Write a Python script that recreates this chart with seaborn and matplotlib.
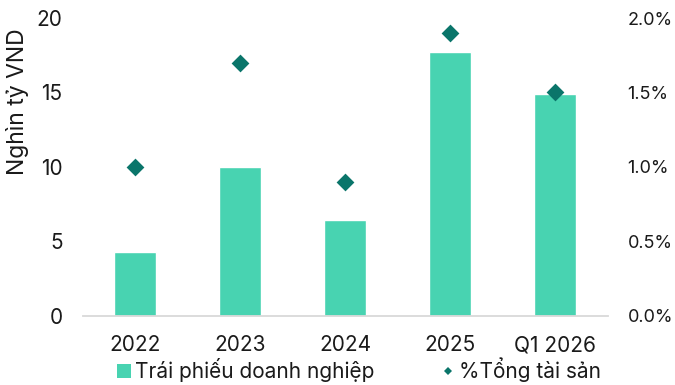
import matplotlib
matplotlib.use("Agg")
import matplotlib.pyplot as plt
from matplotlib.patches import Patch
from matplotlib.lines import Line2D
from matplotlib.ticker import FuncFormatter
import seaborn as sns
import pandas as pd

# Data
periods = ["2022", "2023", "2024", "2025", "Q1 2026"]
bond_value = [4.3, 10.0, 6.4, 17.7, 14.9]          # Nghìn tỷ VND
share_of_assets = [1.0, 1.7, 0.9, 1.9, 1.5]         # % tổng tài sản

bar_label = "Trái phiếu doanh nghiệp"
point_label = "%Tổng tài sản"
y_label = "Nghìn tỷ VND"

bar_color = "#48D3B1"
point_color = "#0A756A"
text_color = "#1A1A1A"

df = pd.DataFrame({"period": periods, "value": bond_value, "share": share_of_assets})

sns.set_theme(style="white")
plt.rcParams["font.family"] = ["Inter", "DejaVu Sans"]
plt.rcParams["text.color"] = text_color
plt.rcParams["axes.labelcolor"] = text_color
plt.rcParams["xtick.color"] = text_color
plt.rcParams["ytick.color"] = text_color

fs = 15
fig = plt.figure(figsize=(6.75, 3.85), dpi=100)
ax = fig.add_axes([0.1225, 0.18, 0.7778, 0.773])

sns.barplot(data=df, x="period", y="value", color=bar_color, width=0.4,
            saturation=1, ax=ax, zorder=2)
ax.set_xlim(-0.5, 4.5)
ax.set_ylim(0, 20)
ax.set_yticks([0, 5, 10, 15, 20])
ax.set_xlabel("")
ax.set_ylabel("")

ax2 = ax.twinx()
sns.scatterplot(data=df, x="period", y="share", marker="D", s=82,
                color=point_color, linewidth=0, ax=ax2, zorder=3, legend=False)
ax2.set_ylim(0, 2.0)
ax2.set_yticks([0, 0.5, 1.0, 1.5, 2.0])
ax2.yaxis.set_major_formatter(FuncFormatter(lambda v, _: f"{v:.1f}%"))
ax2.set_ylabel("")
ax2.set_xlim(-0.5, 4.5)

for a in (ax, ax2):
    for side in ("top", "left", "right", "bottom"):
        a.spines[side].set_visible(False)
    a.tick_params(axis="both", length=0, labelsize=fs)
ax.spines["bottom"].set_visible(True)
ax.spines["bottom"].set_color("#D9D9D9")
ax.spines["bottom"].set_linewidth(1.3)
ax.tick_params(axis="y", pad=14.5)
ax.tick_params(axis="x", pad=14)
ax2.tick_params(axis="y", pad=14.3, labelsize=13)

fig.text(17.5 / 675, 1 - 102 / 385, y_label, rotation=90, ha="center",
         va="center", fontsize=16.5, color=text_color)

handles = [
    Patch(facecolor=bar_color, edgecolor="none", label=bar_label),
    Line2D([], [], marker="D", linestyle="none", markersize=4.5,
           markerfacecolor=point_color, markeredgewidth=0, label=point_label),
]
fig.legend(handles=handles, loc="center left", bbox_to_anchor=(117 / 675, 0.04),
           ncol=2, frameon=False, fontsize=fs, handlelength=0.67,
           handleheight=0.67, handletextpad=0.2, columnspacing=3.2,
           borderpad=0, borderaxespad=0)

fig.savefig("out.png", dpi=100)
